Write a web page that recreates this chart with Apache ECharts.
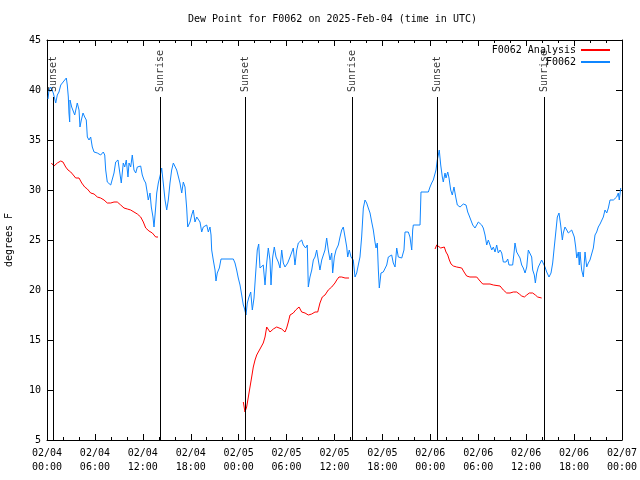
<!DOCTYPE html>
<html>
<head>
<meta charset="utf-8">
<script src="https://cdn.jsdelivr.net/npm/echarts@6/dist/echarts.min.js"></script>
<style>html,body{margin:0;padding:0;background:#fff}#c{width:640px;height:480px}</style>
</head>
<body>
<div id="c"></div>
<script>
// hours since 2025-02-04 00:00 UTC
const blueHours = [0.13,0.25,0.46,0.79,1.09,1.29,1.50,1.72,1.92,2.42,2.54,2.67,2.75,2.84,2.88,3.09,3.26,3.47,3.67,3.79,4.01,4.13,4.30,4.51,4.72,4.92,5.05,5.26,5.47,5.67,5.89,6.30,6.72,7.05,7.23,7.35,7.55,7.98,8.18,8.39,8.60,8.89,9.14,9.30,9.55,9.73,9.93,10.14,10.27,10.48,10.68,10.89,11.11,11.31,11.73,11.93,12.15,12.36,12.56,12.68,12.90,13.06,13.27,13.40,13.61,13.74,13.94,14.24,14.36,14.56,14.78,14.99,15.19,15.40,15.61,15.82,16.03,16.24,16.44,16.65,16.87,17.07,17.28,17.49,17.62,17.91,18.12,18.32,18.53,18.75,18.95,19.16,19.37,19.57,19.78,20.00,20.20,20.41,20.54,20.62,20.82,21.04,21.16,21.32,21.58,21.79,23.33,23.54,23.75,23.95,24.17,24.38,24.58,24.71,24.92,25.08,25.29,25.51,25.71,25.92,26.13,26.33,26.51,26.67,26.88,27.08,27.30,27.51,27.71,27.92,28.05,28.26,28.46,28.68,28.96,29.18,29.39,29.59,29.80,30.14,30.43,30.64,30.84,31.05,31.27,31.47,31.89,32.09,32.39,32.59,32.72,32.93,33.15,33.35,33.56,33.77,33.97,34.18,34.40,34.60,34.81,35.02,35.22,35.44,35.65,35.77,35.98,36.19,36.48,36.69,36.90,37.10,37.32,37.53,37.65,37.85,38.07,38.35,38.57,38.78,38.98,39.19,39.40,39.61,39.82,40.03,40.23,40.45,40.66,40.86,41.07,41.20,41.36,41.49,41.61,41.82,42.11,42.32,42.54,42.74,43.16,43.36,43.58,43.79,43.99,44.42,44.70,44.83,45.24,45.45,45.67,45.79,45.87,46.71,46.83,47.75,47.96,48.17,48.37,48.59,48.71,48.87,49.00,49.12,49.30,49.50,49.62,49.84,49.96,50.18,50.34,50.55,50.75,50.96,51.18,51.38,51.72,52.13,52.47,52.68,52.88,53.31,53.59,53.81,54.01,54.22,54.43,54.63,54.85,55.06,55.26,55.47,55.69,55.89,56.10,56.31,56.51,56.73,56.94,57.14,57.48,57.69,57.85,58.06,58.31,58.48,58.60,58.81,59.02,59.23,59.44,59.64,59.86,60.07,60.27,60.48,60.69,60.82,61.02,61.15,61.32,61.52,61.73,61.94,62.15,62.36,62.57,62.86,63.11,63.32,63.52,63.70,63.90,64.11,64.32,64.53,64.65,64.86,65.08,65.28,65.49,65.70,65.90,66.03,66.20,66.33,66.53,66.65,66.74,66.95,67.16,67.37,67.58,67.78,67.99,68.21,68.41,68.62,68.83,69.03,69.25,69.66,69.87,70.09,70.29,70.50,70.92,71.33,71.54,71.66,71.84];
const blueValues = [39.1,40.0,40.3,39.7,38.7,39.5,39.8,40.5,40.7,41.2,40.5,39.3,37.7,36.8,39.0,38.3,38.5,37.5,37.3,38.7,38.0,36.3,37.0,37.7,37.3,37.0,35.3,35.0,35.3,34.3,33.8,33.7,33.5,33.8,33.5,32.0,30.8,30.5,30.3,31.7,32.8,33.0,33.2,30.7,32.7,32.3,33.0,31.3,32.7,32.3,33.5,32.0,31.7,32.3,32.4,31.5,31.0,30.7,29.7,29.0,29.7,28.3,27.3,26.3,28.3,29.7,30.7,31.7,32.2,30.7,29.0,28.0,29.0,30.7,32.0,32.7,32.5,32.0,31.8,30.7,29.7,30.8,30.3,28.2,26.3,26.8,27.5,28.0,26.8,27.3,27.5,26.8,25.8,26.3,26.5,26.5,25.8,26.3,25.5,24.0,23.0,22.0,20.9,21.7,22.2,23.1,23.1,22.7,22.0,21.2,20.5,19.5,18.5,18.2,17.5,18.7,19.3,19.8,18.0,19.2,21.7,24.0,24.6,22.2,22.0,22.5,20.5,22.7,24.2,23.0,20.5,23.3,24.3,23.3,22.8,22.2,24.0,22.7,22.3,22.7,23.3,23.2,24.2,22.5,24.0,24.7,25.0,24.5,24.2,24.5,20.3,21.3,22.0,23.0,23.3,24.0,23.0,22.0,23.0,23.2,24.0,25.2,24.0,23.0,23.7,21.7,23.3,24.0,24.5,25.3,26.0,26.3,25.3,24.3,23.3,24.0,23.3,23.0,21.3,21.7,22.5,23.3,25.3,28.2,29.0,28.7,28.2,27.7,26.8,26.0,24.8,24.2,24.7,22.0,20.2,21.7,21.8,22.0,22.5,23.3,23.5,22.7,22.3,24.2,23.3,23.2,24.0,25.8,25.8,25.3,24.0,26.0,26.5,26.5,29.8,29.8,30.3,30.7,31.0,30.8,32.0,33.0,33.5,34.0,32.5,31.3,30.8,31.7,31.2,31.8,31.2,30.0,29.5,30.3,29.3,28.5,28.3,28.6,28.5,27.8,27.4,26.5,26.2,26.0,26.8,26.8,26.5,26.2,25.5,24.5,25.0,24.8,24.0,24.3,23.8,24.5,23.7,24.0,23.7,22.8,22.8,23.1,22.5,22.7,22.5,23.7,24.7,23.8,23.7,23.2,22.5,22.2,21.7,22.3,24.0,24.2,23.3,22.0,21.5,20.7,21.7,22.3,22.3,23.0,22.8,22.3,21.8,21.3,21.7,22.7,24.3,25.7,27.3,27.7,26.5,25.0,25.7,26.3,26.0,25.7,25.8,26.0,26.2,25.3,24.3,23.2,23.8,22.5,23.8,22.0,21.3,23.8,22.3,22.7,23.0,23.2,24.2,25.5,25.8,26.3,26.6,27.3,28.0,27.7,28.2,29.0,29.0,29.3,29.7,29.0,30.2];

// analysis segments (nights only)
const redHours1 = [0.54,0.88,1.29,1.72,2.00,2.34,2.63,2.97,3.29,3.59,4.01,4.35,4.72,5.05,5.47,5.89,6.30,6.72,7.14,7.55,7.98,8.39,8.80,9.23,9.64,10.06,10.48,10.89,11.31,11.73,12.06,12.36,12.77,13.19,13.61,13.90];
const redValues1 = [32.7,32.4,32.7,32.9,32.8,32.3,32.0,31.8,31.5,31.2,31.2,30.7,30.3,30.1,29.7,29.6,29.3,29.2,29.0,28.7,28.7,28.8,28.8,28.5,28.2,28.1,28.0,27.8,27.6,27.3,26.8,26.2,25.9,25.7,25.3,25.3];
const redHours2 = [24.58,24.79,25.00,25.21,25.42,25.63,25.83,26.05,26.26,26.46,26.67,26.88,27.08,27.30,27.51,27.71,27.92,28.34,28.76,29.39,29.80,30.01,30.22,30.43,30.84,31.14,31.56,31.89,32.31,32.72,33.15,33.56,33.90,34.18,34.47,34.81,35.22,35.65,36.06,36.28,36.56,36.90,37.32,37.82];
const redValues2 = [8.8,7.8,8.3,9.3,10.3,11.3,12.3,13.0,13.5,13.8,14.1,14.0,14.7,15.3,16.3,16.4,15.8,16.1,16.3,16.1,15.8,16.2,16.8,17.5,17.7,18.0,18.3,17.8,17.7,17.5,17.6,17.8,17.8,18.7,19.3,19.5,20.0,20.3,20.7,21.0,21.3,21.3,21.2,21.2];
const redHours3 = [48.59,48.80,49.00,49.30,49.55,49.75,49.96,50.18,50.38,50.59,50.88,51.30,51.93,52.22,52.55,52.96,53.81,54.22,54.56,55.47,55.89,56.73,56.94,57.14,57.56,57.98,58.39,58.81,59.14,59.44,59.77,60.07,60.39,60.82,61.15,61.44,61.65,61.94];
const redValues3 = [24.1,24.5,24.4,24.2,24.1,24.3,23.8,23.5,23.0,22.6,22.4,22.3,22.2,21.8,21.4,21.3,21.3,20.9,20.6,20.6,20.5,20.4,20.3,20.0,19.7,19.7,19.8,19.8,19.6,19.4,19.3,19.5,19.7,19.7,19.5,19.3,19.2,19.2];

const eventHours = [0.75, 14.15, 24.8, 38.22, 48.87, 62.23];
const eventNames = ['Sunset', 'Sunrise', 'Sunset', 'Sunrise', 'Sunset', 'Sunrise'];
const eventLineTop = 39.3;
const eventLabelBase = 39.8;

const xMin = 0, xMax = 72, xStep = 6;
const yMin = 5, yMax = 45, yStep = 5;

const MONO = '"DejaVu Sans Mono", monospace';
const pad2 = n => (n < 10 ? '0' : '') + n;
function xLabel(h) {
  const day = 4 + Math.floor(h / 24);
  const hh = Math.round(h % 24);
  return '02/' + pad2(day) + '\n' + pad2(hh) + ':00';
}

const blueData = blueHours.map((h, i) => [h, blueValues[i]]);
const redData = [].concat(
  redHours1.map((h, i) => [h, redValues1[i]]), [[null, null]],
  redHours2.map((h, i) => [h, redValues2[i]]), [[null, null]],
  redHours3.map((h, i) => [h, redValues3[i]])
).map(p => p[0] === null ? ['-', '-'] : p);

const axisCommon = {
  axisLine: { show: true, onZero: false, lineStyle: { color: '#000', width: 1 } },
  axisTick: { show: true, inside: true, length: 6, lineStyle: { color: '#000' } },
  splitLine: { show: false }
};
const legendCommon = {
  right: 30, align: 'right', padding: 0, itemWidth: 29, itemHeight: 2, icon: 'rect',
  textStyle: { fontFamily: MONO, fontSize: 10, color: '#000' }
};

const chart = echarts.init(document.getElementById('c'), null, { renderer: 'canvas' });
chart.setOption({
  animation: false,
  backgroundColor: '#fff',
  title: {
    text: 'Dew Point for F0062 on 2025-Feb-04 (time in UTC)',
    left: 188, top: 14, padding: 0,
    textStyle: { fontFamily: MONO, fontSize: 10, fontWeight: 'normal', color: '#000' }
  },
  grid: { left: 47, right: 18, top: 40, bottom: 40, containLabel: false, outerBoundsMode: 'none' },
  legend: [
    Object.assign({}, legendCommon, { data: ['F0062 Analysis'], top: 45 }),
    Object.assign({}, legendCommon, { data: ['F0062'], top: 57 })
  ],
  xAxis: [
    Object.assign({}, axisCommon, {
      type: 'value', min: xMin, max: xMax, interval: xStep, position: 'bottom',
      minorTick: { show: true, splitNumber: 3, length: 3, lineStyle: { color: '#000' } },
      axisLabel: { formatter: xLabel, fontFamily: MONO, fontSize: 10, color: '#000', margin: 6, lineHeight: 14 }
    }),
    Object.assign({}, axisCommon, {
      type: 'value', min: xMin, max: xMax, interval: xStep, position: 'top',
      minorTick: { show: true, splitNumber: 3, length: 3, lineStyle: { color: '#000' } },
      axisLabel: { show: false }
    })
  ],
  yAxis: [
    Object.assign({}, axisCommon, {
      type: 'value', min: yMin, max: yMax, interval: yStep, position: 'left',
      name: 'degrees F', nameLocation: 'middle', nameGap: 33, nameRotate: 90,
      nameTextStyle: { fontFamily: MONO, fontSize: 10, color: '#000' },
      axisLabel: { fontFamily: MONO, fontSize: 10, color: '#000', margin: 6 }
    }),
    Object.assign({}, axisCommon, {
      type: 'value', min: yMin, max: yMax, interval: yStep, position: 'right',
      axisLabel: { show: false }
    })
  ],
  series: [
    {
      name: 'F0062 Analysis', type: 'line', data: redData, connectNulls: false,
      symbol: 'none', color: '#ff0000', lineStyle: { width: 1, color: '#ff0000' }, z: 3
    },
    {
      name: 'F0062', type: 'line', data: blueData,
      symbol: 'none', color: '#0f86ff', lineStyle: { width: 1, color: '#0f86ff' }, z: 2
    },
    {
      name: 'events', type: 'scatter', symbolSize: 0, silent: true, z: 4,
      data: eventHours.map((h, i) => ({ value: [h, eventLabelBase], name: eventNames[i] })),
      label: {
        show: true, formatter: '{b}', position: 'inside', rotate: 90,
        align: 'left', verticalAlign: 'middle',
        fontFamily: MONO, fontSize: 10, color: '#000'
      },
      markLine: {
        silent: true, symbol: 'none', animation: false,
        label: { show: false },
        lineStyle: { color: '#000', width: 1, type: 'solid' },
        data: eventHours.map(h => [{ coord: [h, yMin] }, { coord: [h, eventLineTop] }])
      }
    }
  ]
});
</script>
</body>
</html>
